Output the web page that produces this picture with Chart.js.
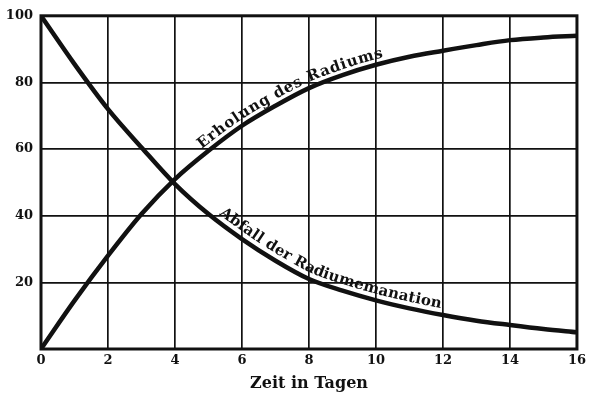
<!DOCTYPE html>
<html>
<head>
<meta charset="utf-8">
<script src="https://cdn.jsdelivr.net/npm/chart.js@4.4.1/dist/chart.umd.min.js"></script>
<style>
  html, body { margin: 0; padding: 0; background: #fff; }
  #wrap { width: 590px; height: 404px; position: relative; }
</style>
</head>
<body>
<div id="wrap"><canvas id="c"></canvas></div>
<script>
// ---- data ----
const days = [0,1,2,3,4,5,6,7,8,9,10,11,12,13,14,15,16];
const erholung = [0,14.5,28,40.5,51,59.5,67,73,78.3,82.2,85.3,87.7,89.5,91.2,92.7,93.5,94];
const abfall = [100,85.5,72,60.5,49.5,40.5,33,26.5,21,17.5,14.6,12.2,10.2,8.5,7.2,6.0,5.0];
const xTicks = [0,2,4,6,8,10,12,14,16];
const yTicks = [20,40,60,80,100];
const curveLabels = ["Erholung des Radiums", "Abfall der Radiumemanation"];
const axisTitle = "Zeit in Tagen";

const INK = '#111';

// text along a dataset's curve
const curveTextPlugin = {
  id: 'curveText',
  afterDatasetsDraw(chart, args, opts) {
    const ctx = chart.ctx;
    const xs = chart.scales.x;
    opts.items.forEach(item => {
      const pts = chart.getDatasetMeta(item.dataset).data;
      const samples = [];
      for (let i = 0; i < pts.length - 1; i++) {
        const a = pts[i], b = pts[i + 1];
        const c1x = a.cp2x ?? a.x, c1y = a.cp2y ?? a.y;
        const c2x = b.cp1x ?? b.x, c2y = b.cp1y ?? b.y;
        for (let k = 0; k < 30; k++) {
          const t = k / 30, u = 1 - t;
          samples.push({
            x: u*u*u*a.x + 3*u*u*t*c1x + 3*u*t*t*c2x + t*t*t*b.x,
            y: u*u*u*a.y + 3*u*u*t*c1y + 3*u*t*t*c2y + t*t*t*b.y
          });
        }
      }
      const last = pts[pts.length - 1];
      samples.push({x: last.x, y: last.y});
      const cum = [0];
      for (let i = 1; i < samples.length; i++) {
        cum.push(cum[i-1] + Math.hypot(samples[i].x - samples[i-1].x, samples[i].y - samples[i-1].y));
      }
      const arcAtX = px => {
        for (let i = 0; i < samples.length; i++) if (samples[i].x >= px) return cum[i];
        return cum[cum.length - 1];
      };
      const at = s => {
        let i = 1;
        while (i < cum.length - 1 && cum[i] < s) i++;
        const f = (s - cum[i-1]) / Math.max(1e-6, cum[i] - cum[i-1]);
        const p0 = samples[i-1], p1 = samples[i];
        return {
          x: p0.x + (p1.x - p0.x) * f,
          y: p0.y + (p1.y - p0.y) * f,
          a: Math.atan2(p1.y - p0.y, p1.x - p0.x)
        };
      };
      ctx.save();
      ctx.font = item.font;
      ctx.fillStyle = INK;
      ctx.textBaseline = 'alphabetic';
      const chars = item.text.split('');
      const widths = chars.map(ch => ctx.measureText(ch).width);
      const total = widths.reduce((p, c) => p + c, 0);
      const s0 = arcAtX(xs.getPixelForValue(item.from));
      const s1 = arcAtX(xs.getPixelForValue(item.to));
      const gap = (s1 - s0 - total) / (chars.length - 1);
      let s = s0;
      chars.forEach((ch, i) => {
        const p = at(s + widths[i] / 2);
        ctx.save();
        ctx.translate(p.x, p.y);
        ctx.rotate(p.a);
        ctx.fillText(ch, -widths[i] / 2, -item.offset);
        ctx.restore();
        s += widths[i] + gap;
      });
      ctx.restore();
    });
  }
};

const framePlugin = {
  id: 'frame',
  afterDatasetsDraw(chart) {
    const {ctx, chartArea: a} = chart;
    ctx.save();
    ctx.strokeStyle = INK;
    ctx.lineWidth = 3;
    ctx.strokeRect(a.left, a.top, a.right - a.left, a.bottom - a.top);
    ctx.restore();
  }
};

const toXY = arr => days.map((d, i) => ({x: d, y: arr[i]}));

new Chart(document.getElementById('c'), {
  type: 'line',
  data: {
    datasets: [
      { label: curveLabels[0], data: toXY(erholung), borderColor: INK, borderWidth: 4.5,
        pointRadius: 0, cubicInterpolationMode: 'monotone', fill: false },
      { label: curveLabels[1], data: toXY(abfall), borderColor: INK, borderWidth: 4.5,
        pointRadius: 0, cubicInterpolationMode: 'monotone', fill: false }
    ]
  },
  options: {
    responsive: true,
    maintainAspectRatio: false,
    animation: false,
    layout: { padding: { top: 14, right: 12, left: 0, bottom: 0 } },
    plugins: {
      legend: { display: false },
      tooltip: { enabled: false },
      curveText: {
        items: [
          { dataset: 0, text: curveLabels[0], from: 4.9, to: 10.25, offset: 5.5,
            font: 'bold 15px "DejaVu Serif"' },
          { dataset: 1, text: curveLabels[1], from: 5.2, to: 11.9, offset: 6.5,
            font: 'bold 15px "DejaVu Serif"' }
        ]
      }
    },
    scales: {
      x: {
        type: 'linear', min: 0, max: 16,
        afterBuildTicks: s => { s.ticks = xTicks.map(v => ({value: v})); },
        afterFit: s => { s.height = 55; },
        grid: { color: INK, lineWidth: 1.7, drawTicks: false },
        border: { display: false },
        ticks: { color: INK, padding: 4, font: { family: '"DejaVu Serif"', weight: 'bold', size: 13 } },
        title: { display: true, text: axisTitle, color: INK, padding: { top: 0, bottom: 11 },
                 font: { family: '"DejaVu Serif"', weight: 'bold', size: 16 } }
      },
      y: {
        type: 'linear', min: 0, max: 100,
        afterBuildTicks: s => { s.ticks = [0].concat(yTicks).map(v => ({value: v})); },
        afterFit: s => { s.width = 41; },
        grid: { color: INK, lineWidth: 1.7, drawTicks: false },
        border: { display: false },
        ticks: { color: INK, padding: 8, callback: v => (v === 0 ? '' : v),
                 font: { family: '"DejaVu Serif"', weight: 'bold', size: 13 } }
      }
    }
  },
  plugins: [curveTextPlugin, framePlugin]
});
</script>
</body>
</html>
